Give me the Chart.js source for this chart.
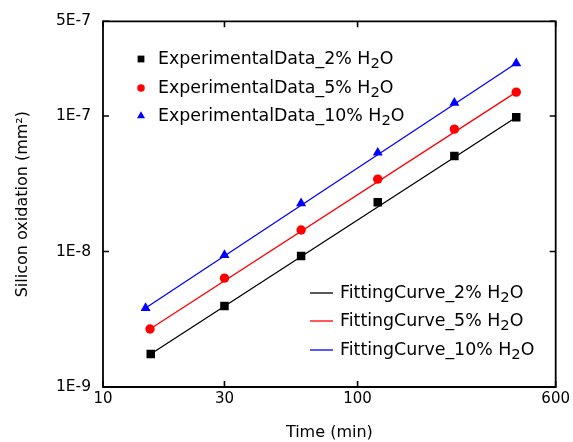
<!DOCTYPE html>
<html><head><meta charset="utf-8">
<script src="https://cdn.jsdelivr.net/npm/chart.js@4.4.0/dist/chart.umd.min.js"></script>
<style>html,body{margin:0;padding:0;background:#fff}#wrap{width:573px;height:442px;position:relative}</style>
</head><body><div id="wrap"><canvas id="c"></canvas></div>
<script>
// ---- data ----
const time2 = [15.4, 30, 60, 120, 240, 420];
const time5 = [15.3, 30, 60, 120, 240, 420];
const time10 = [14.7, 30, 60, 120, 240, 420];
const exp2 = [1.75e-9, 3.96e-9, 9.25e-9, 2.31e-8, 5.06e-8, 9.8e-8];
const exp5 = [2.68e-9, 6.36e-9, 1.44e-8, 3.42e-8, 8.0e-8, 1.5e-7];
const exp10 = [3.83e-9, 9.4e-9, 2.27e-8, 5.36e-8, 1.25e-7, 2.45e-7];
const fitTime2 = [15.4, 420];
const fitTime5 = [15.3, 420];
const fitTime10 = [14.7, 420];
const fit2 = [1.75e-9, 9.8e-8];
const fit5 = [2.68e-9, 1.5e-7];
const fit10 = [3.83e-9, 2.45e-7];
const xTickValues = [10, 30, 100, 600];
const xTickLabels = ['10', '30', '100', '600'];
const yTickValues = [1e-9, 1e-8, 1e-7, 5e-7];
const yTickLabels = ['1E-9', '1E-8', '1E-7', '5E-7'];
const expLabels = ['ExperimentalData_2% H\u2082O', 'ExperimentalData_5% H\u2082O', 'ExperimentalData_10% H\u2082O'];
const fitLabels = ['FittingCurve_2% H\u2082O', 'FittingCurve_5% H\u2082O', 'FittingCurve_10% H\u2082O'];
const colors = ['#000000', '#ff0000', '#0000ff'];

const FAMILY = '"DejaVu Sans", "Liberation Sans", sans-serif';
const pts = (xs, ys) => xs.map((x, i) => ({x: x, y: ys[i]}));

const datasets = [
  {label: expLabels[0], data: pts(time2, exp2), pointStyle: 'rect', pointRadius: 6, backgroundColor: colors[0], borderColor: colors[0], borderWidth: 0, showLine: false},
  {label: expLabels[1], data: pts(time5, exp5), pointStyle: 'circle', pointRadius: 4.7, backgroundColor: colors[1], borderColor: colors[1], borderWidth: 0, showLine: false},
  {label: expLabels[2], data: pts(time10, exp10), pointStyle: 'triangle', pointRadius: 5.8, backgroundColor: colors[2], borderColor: colors[2], borderWidth: 0, showLine: false},
  {label: fitLabels[0], data: pts(fitTime2, fit2), showLine: true, pointRadius: 0, borderColor: colors[0], backgroundColor: colors[0], borderWidth: 1.3},
  {label: fitLabels[1], data: pts(fitTime5, fit5), showLine: true, pointRadius: 0, borderColor: colors[1], backgroundColor: colors[1], borderWidth: 1.3},
  {label: fitLabels[2], data: pts(fitTime10, fit10), showLine: true, pointRadius: 0, borderColor: colors[2], backgroundColor: colors[2], borderWidth: 1.3}
];

function drawSubLabel(ctx, text, x, baseY, size) {
  const parts = text.split('\u2082');
  ctx.font = size + 'px ' + FAMILY;
  ctx.textAlign = 'left';
  ctx.textBaseline = 'alphabetic';
  ctx.fillStyle = '#000';
  ctx.fillText(parts[0], x, baseY);
  let cx = x + ctx.measureText(parts[0]).width;
  if (parts.length > 1) {
    ctx.font = (size * 0.85) + 'px ' + FAMILY;
    ctx.fillText('2', cx, baseY + 4);
    cx += ctx.measureText('2').width;
    ctx.font = size + 'px ' + FAMILY;
    ctx.fillText(parts[1], cx, baseY);
  }
}

const framePlugin = {
  id: 'frame',
  afterDatasetsDraw(chart) {
    const {ctx, chartArea: a, scales} = chart;
    ctx.save();
    ctx.strokeStyle = '#000';
    ctx.lineWidth = 1.8;
    ctx.beginPath();
    ctx.rect(a.left, a.top, a.right - a.left, a.bottom - a.top);
    ctx.stroke();
    const tl = 6;
    ctx.lineWidth = 1.6;
    ctx.beginPath();
    xTickValues.forEach(v => {
      const px = scales.x.getPixelForValue(v);
      ctx.moveTo(px, a.bottom); ctx.lineTo(px, a.bottom - tl);
      ctx.moveTo(px, a.top); ctx.lineTo(px, a.top + tl);
    });
    yTickValues.forEach(v => {
      const py = scales.y.getPixelForValue(v);
      ctx.moveTo(a.left, py); ctx.lineTo(a.left + tl, py);
      ctx.moveTo(a.right, py); ctx.lineTo(a.right - tl, py);
    });
    ctx.stroke();

    // legends
    const ds = chart.data.datasets;
    const rows1 = [59, 88, 116];
    for (let i = 0; i < 3; i++) {
      const d = ds[i];
      ctx.fillStyle = d.backgroundColor;
      ctx.strokeStyle = d.borderColor;
      Chart.helpers.drawPoint(ctx, {pointStyle: d.pointStyle, radius: d.pointRadius * 0.8, rotation: 0, borderWidth: 0}, 141, rows1[i]);
      drawSubLabel(ctx, d.label, 158, rows1[i] + 4.5, 17.4);
    }
    const rows2 = [293, 321, 350];
    for (let i = 0; i < 3; i++) {
      const d = ds[3 + i];
      ctx.strokeStyle = d.borderColor;
      ctx.lineWidth = 1.3;
      ctx.beginPath();
      ctx.moveTo(310, rows2[i]); ctx.lineTo(333, rows2[i]);
      ctx.stroke();
      drawSubLabel(ctx, d.label, 340, rows2[i] + 5, 17.4);
    }
    ctx.restore();
  }
};

new Chart(document.getElementById('c'), {
  type: 'scatter',
  data: {datasets: datasets},
  options: {
    responsive: true,
    maintainAspectRatio: false,
    animation: false,
    devicePixelRatio: 1,
    layout: {padding: {left: 0, right: 17, top: 21, bottom: 0}},
    plugins: {legend: {display: false}, tooltip: {enabled: false}},
    scales: {
      x: {
        type: 'logarithmic', min: 10, max: 600,
        afterBuildTicks: s => { s.ticks = xTickValues.map(v => ({value: v})); },
        ticks: {callback: (v, i) => xTickLabels[i], color: '#000', font: {family: FAMILY, size: 15}, padding: 3, maxRotation: 0, autoSkip: false},
        grid: {display: false, drawTicks: false},
        border: {display: false},
        title: {display: true, text: 'Time (min)', color: '#000', font: {family: FAMILY, size: 16}, padding: {top: 0, bottom: 0}},
        afterFit: s => { s.height = 55; }
      },
      y: {
        type: 'logarithmic', min: 1e-9, max: 5e-7,
        afterBuildTicks: s => { s.ticks = yTickValues.map(v => ({value: v})); },
        ticks: {callback: (v, i) => yTickLabels[i], color: '#000', font: {family: FAMILY, size: 15.5}, padding: 12, autoSkip: false},
        grid: {display: false, drawTicks: false},
        border: {display: false},
        title: {display: true, text: 'Silicon oxidation (mm\u00b2)', color: '#000', font: {family: FAMILY, size: 16}, padding: {top: 13, bottom: 0}},
        afterFit: s => { s.width = 103; }
      }
    }
  },
  plugins: [framePlugin]
});
</script>
</body></html>
